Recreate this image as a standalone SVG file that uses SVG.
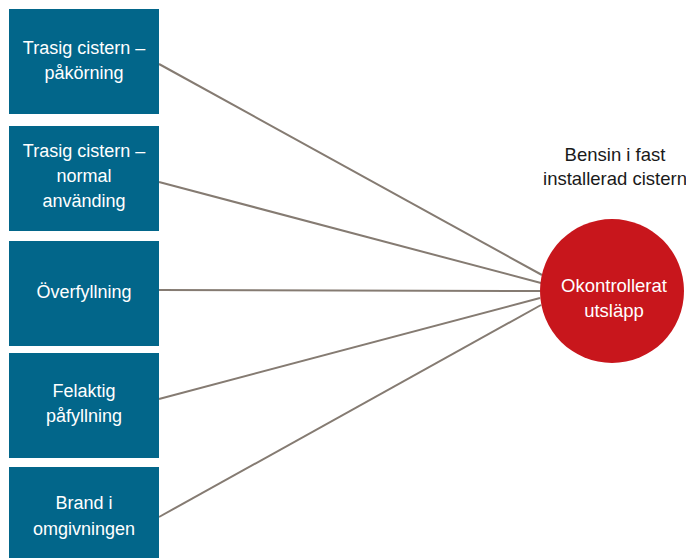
<svg xmlns="http://www.w3.org/2000/svg" width="686" height="558" viewBox="0 0 686 558">
  <style>
    .box { fill: #02668a; }
    .box-text { fill: #ffffff; font-family: "Liberation Sans", Arial, sans-serif; font-size: 18px; text-anchor: middle; }
    .title { fill: #1a1a1a; font-family: "Liberation Sans", Arial, sans-serif; font-size: 18.5px; text-anchor: middle; }
    .event { fill: #c8161c; }
    .event-text { fill: #ffffff; font-family: "Liberation Sans", Arial, sans-serif; font-size: 18.5px; text-anchor: middle; }
    .link { stroke: #857b72; stroke-width: 2; fill: none; }
  </style>
  <rect width="686" height="558" fill="#ffffff"/>

  <g id="connectors">
    <line class="link" x1="159" y1="64" x2="542" y2="275"/>
    <line class="link" x1="159" y1="182" x2="541" y2="283"/>
    <line class="link" x1="159" y1="290" x2="540" y2="291"/>
    <line class="link" x1="159" y1="399" x2="540" y2="298"/>
    <line class="link" x1="159" y1="517" x2="541" y2="305"/>
  </g>

  <g id="cause-pakorning">
    <rect class="box" x="9" y="9" width="150" height="105"/>
    <text class="box-text" x="84" y="54">Trasig cistern –</text>
    <text class="box-text" x="84" y="79">påkörning</text>
  </g>

  <g id="cause-normal-anvanding">
    <rect class="box" x="9" y="126" width="150" height="105"/>
    <text class="box-text" x="84" y="157">Trasig cistern –</text>
    <text class="box-text" x="84" y="182">normal</text>
    <text class="box-text" x="84" y="207">använding</text>
  </g>

  <g id="cause-overfyllning">
    <rect class="box" x="9" y="241" width="150" height="105"/>
    <text class="box-text" x="84" y="298">Överfyllning</text>
  </g>

  <g id="cause-felaktig-pafyllning">
    <rect class="box" x="9" y="353" width="150" height="105"/>
    <text class="box-text" x="84" y="397">Felaktig</text>
    <text class="box-text" x="84" y="422">påfyllning</text>
  </g>

  <g id="cause-brand">
    <rect class="box" x="9" y="467" width="150" height="91"/>
    <text class="box-text" x="84" y="509">Brand i</text>
    <text class="box-text" x="84" y="535">omgivningen</text>
  </g>

  <g id="title">
    <text class="title" x="615" y="161">Bensin i fast</text>
    <text class="title" x="615" y="185">installerad cistern</text>
  </g>

  <g id="event-utslapp">
    <circle class="event" cx="612" cy="291" r="72"/>
    <text class="event-text" x="614" y="292">Okontrollerat</text>
    <text class="event-text" x="614" y="317">utsläpp</text>
  </g>
</svg>
